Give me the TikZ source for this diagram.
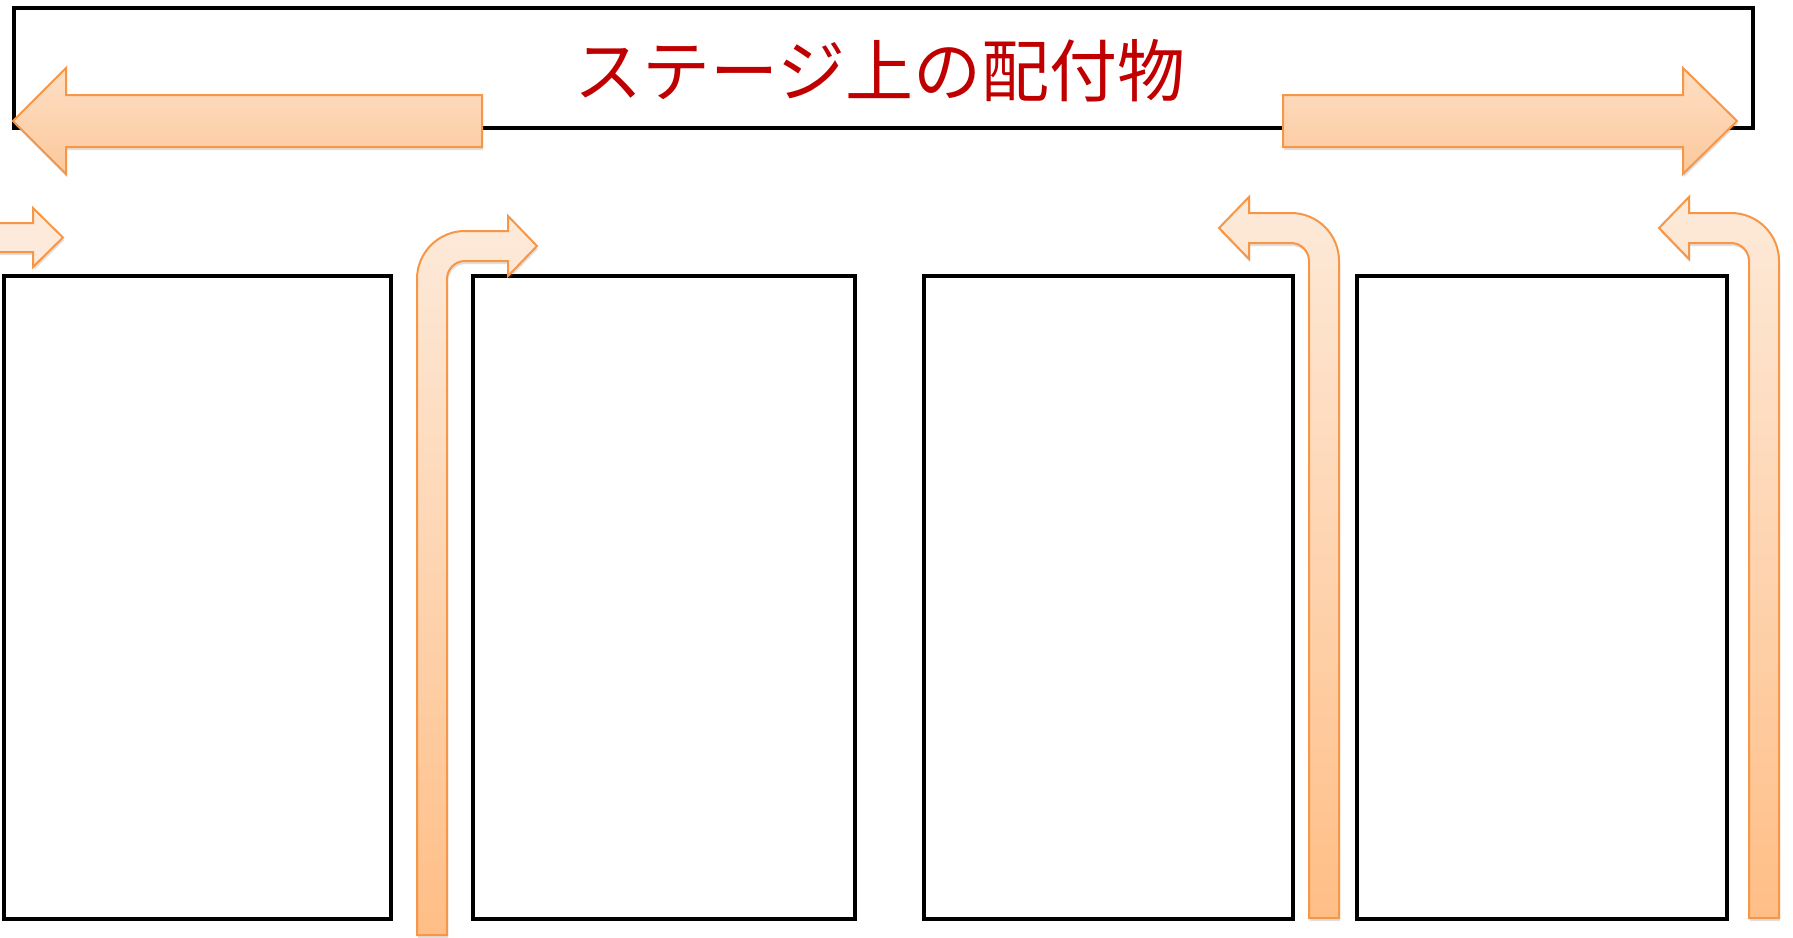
\documentclass[tikz,border=0pt]{standalone}
\usepackage{fontspec}
\newfontfamily\jpfont{Noto Sans CJK JP}
\usetikzlibrary{shadows}
\definecolor{titlered}{HTML}{C00000}
\definecolor{arrowline}{HTML}{F79646}
\definecolor{bigtop}{HTML}{FDDFC5}
\definecolor{bigbot}{HTML}{FCC89B}
\definecolor{benttop}{HTML}{FDEADA}
\definecolor{bentbot}{HTML}{FFBE86}
\tikzset{
  panel/.style={draw=black, line width=4.5pt, minimum height=643pt, inner sep=0pt},
  blockarrow/.style={draw=arrowline, line width=2pt,
    drop shadow={opacity=0.25, shadow xshift=1pt, shadow yshift=-3pt}},
  bigarrow/.style={blockarrow, top color=bigtop, bottom color=bigbot},
  bentarrow/.style={blockarrow, top color=benttop, bottom color=bentbot},
}
\begin{document}
\begin{tikzpicture}[x=1pt, y=-1pt]
            \useasboundingbox[fill=white] (0,0) rectangle (1793,937);
            %stage
            \node[draw=black, line width=4.5pt, minimum width=1739pt, minimum height=120pt] (stage) at (883.5,68) {};
            \node[text=titlered, font=\jpfont\fontsize{68}{72}\selectfont] (title) at (880,71) {ステージ上の配付物};

            %panels
            \node[panel, minimum width=387pt] (p1) at (197.5,597.5) {};
            \node[panel, minimum width=382pt] (p2) at (664,597.5) {};
            \node[panel, minimum width=369pt] (p3) at (1108.5,597.5) {};
            \node[panel, minimum width=370pt] (p4) at (1542,597.5) {};

            %big arrows on the stage
            \path[bigarrow] (482,95) -- (66,95) -- (66,68) -- (13,121) -- (66,174) -- (66,147) -- (482,147) -- cycle;
            \path[bigarrow] (1283,95) -- (1683,95) -- (1683,68) -- (1737,121) -- (1683,174) -- (1683,147) -- (1283,147) -- cycle;

            %small arrow at the left edge
            \path[blockarrow, fill=benttop] (-5,223) -- (33,223) -- (33,208) -- (63,237.5) -- (33,267) -- (33,252) -- (-5,252) -- cycle;

            %bent arrows
            \path[bentarrow] (417,935) -- (417,279) arc[start angle=180, end angle=270, radius=48] -- (508,231) -- (508,216) -- (537,246)
              -- (508,276) -- (508,261) -- (465,261) arc[start angle=270, end angle=180, radius=18] -- (447,935) -- cycle;
            \foreach \dx in {0,440}
              \path[bentarrow, shift={(\dx,0)}] (1339,918) -- (1339,261) arc[start angle=0, end angle=-90, radius=48] -- (1249,213) -- (1249,197) -- (1219,228)
                -- (1249,259) -- (1249,243) -- (1291,243) arc[start angle=-90, end angle=0, radius=18] -- (1309,918) -- cycle;
\end{tikzpicture}
\end{document}
